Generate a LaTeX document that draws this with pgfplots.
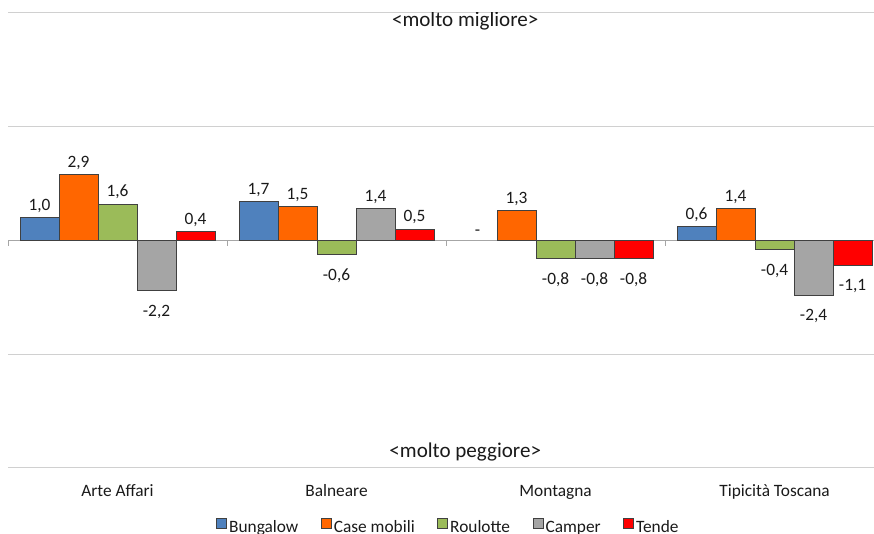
\documentclass[border=0pt]{standalone}
\usepackage{fontspec}
\setmainfont{Carlito}
\usepackage{pgfplots}
\pgfplotsset{compat=1.18}

\definecolor{cBung}{HTML}{4F81BD}
\definecolor{cCase}{HTML}{FF6600}
\definecolor{cRoul}{HTML}{9BBB59}
\definecolor{cCamp}{HTML}{A5A5A5}
\definecolor{cTend}{HTML}{FF0000}
\definecolor{gridc}{HTML}{D0D0D0}
\definecolor{zeroc}{HTML}{A6A6A6}
\definecolor{edgec}{HTML}{404040}
\definecolor{txtc}{HTML}{1A1A1A}

\pgfplotsset{
  legsq/.style={legend image code/.code={
    \draw[fill=#1, draw=edgec, line width=0.6pt] (0pt,-0.6pt) rectangle (7.5pt,6.9pt);}},
}

\begin{document}
\begin{tikzpicture}
\path[use as bounding box] (-6pt,-49.5pt) rectangle (649.5pt,351pt);
\begin{axis}[
  at={(0pt,0pt)}, anchor=south west,
  scale only axis, width=649.5pt, height=341.25pt,
  xmin=-0.5, xmax=3.454, ymin=-10, ymax=10,
  ybar=0pt, bar width=29.25pt,
  axis line style={draw=none},
  xtick={0,1,2,3},
  xticklabels={Arte Affari, Balneare, Montagna, Tipicità Toscana},
  ytick={-10,-5,0,5,10}, yticklabels={},
  ymajorgrids, grid style={gridc, line width=0.75pt},
  major tick length=0pt,
  xticklabel style={anchor=base, yshift=-21.75pt, text=txtc,
    font=\fontsize{13}{15}\selectfont},
  point meta=y,
  /pgf/number format/.cd, use comma, fixed, fixed zerofill, precision=1,
    assume math mode=true, /pgfplots/.cd,
  nodes near coords={\pgfmathfloatifflags{\pgfplotspointmeta}{0}{-}{\pgfmathprintnumber{\pgfplotspointmeta}}},
  visualization depends on={rawy \as \rawy},
  every node near coord/.append style={font=\fontsize{13}{15}\selectfont, text=txtc,
    yshift={\rawy<0 ? -7pt : 0pt}},
  legend columns=-1,
  legend style={at={(0.509,-0.131)}, anchor=center, draw=none, fill=none,
    font=\fontsize{13}{15}\selectfont, text=txtc,
    /tikz/every odd column/.append style={column sep=-0.5pt},
    /tikz/every even column/.append style={column sep=15pt}},
]
% zero line with the small separators between the groups
\draw[zeroc, line width=0.75pt] (axis cs:-0.5,0) -- (axis cs:3.454,0);
\draw[zeroc, line width=0.75pt] (axis cs:-0.5,0) -- ++(0pt,-4.5pt);
\draw[zeroc, line width=0.75pt] (axis cs:0.5,0) -- ++(0pt,-4.5pt);
\draw[zeroc, line width=0.75pt] (axis cs:1.5,0) -- ++(0pt,-4.5pt);
\draw[zeroc, line width=0.75pt] (axis cs:2.5,0) -- ++(0pt,-4.5pt);

% Bungalow has no value for Montagna: only its "-" label is shown
\addplot[bar shift=-58.5pt, fill=cBung, draw=edgec, line width=0.75pt, legsq=cBung]
  coordinates {(0,1.0) (1,1.7) (3,0.6)};
\addplot[bar shift=-29.25pt, fill=cCase, draw=edgec, line width=0.75pt, legsq=cCase]
  coordinates {(0,2.9) (1,1.5) (2,1.3) (3,1.4)};
\addplot[bar shift=0pt, fill=cRoul, draw=edgec, line width=0.75pt, legsq=cRoul]
  coordinates {(0,1.6) (1,-0.6) (2,-0.8) (3,-0.4)};
\addplot[bar shift=29.25pt, fill=cCamp, draw=edgec, line width=0.75pt, legsq=cCamp]
  coordinates {(0,-2.2) (1,1.4) (2,-0.8) (3,-2.4)};
\addplot[bar shift=58.5pt, fill=cTend, draw=edgec, line width=0.75pt, legsq=cTend]
  coordinates {(0,0.4) (1,0.5) (2,-0.8) (3,-1.1)};
\legend{Bungalow, Case mobili, Roulotte, Camper, Tende}
\addplot[bar shift=-58.5pt, draw=none, fill=none, forget plot]
  coordinates {(2,0)};

\node[font=\fontsize{15.8}{18}\selectfont, text=txtc] at (rel axis cs:0.528,0.982) {<molto migliore>};
\node[font=\fontsize{15.8}{18}\selectfont, text=txtc] at (rel axis cs:0.528,0.035) {<molto peggiore>};
\end{axis}
\end{tikzpicture}
\end{document}
